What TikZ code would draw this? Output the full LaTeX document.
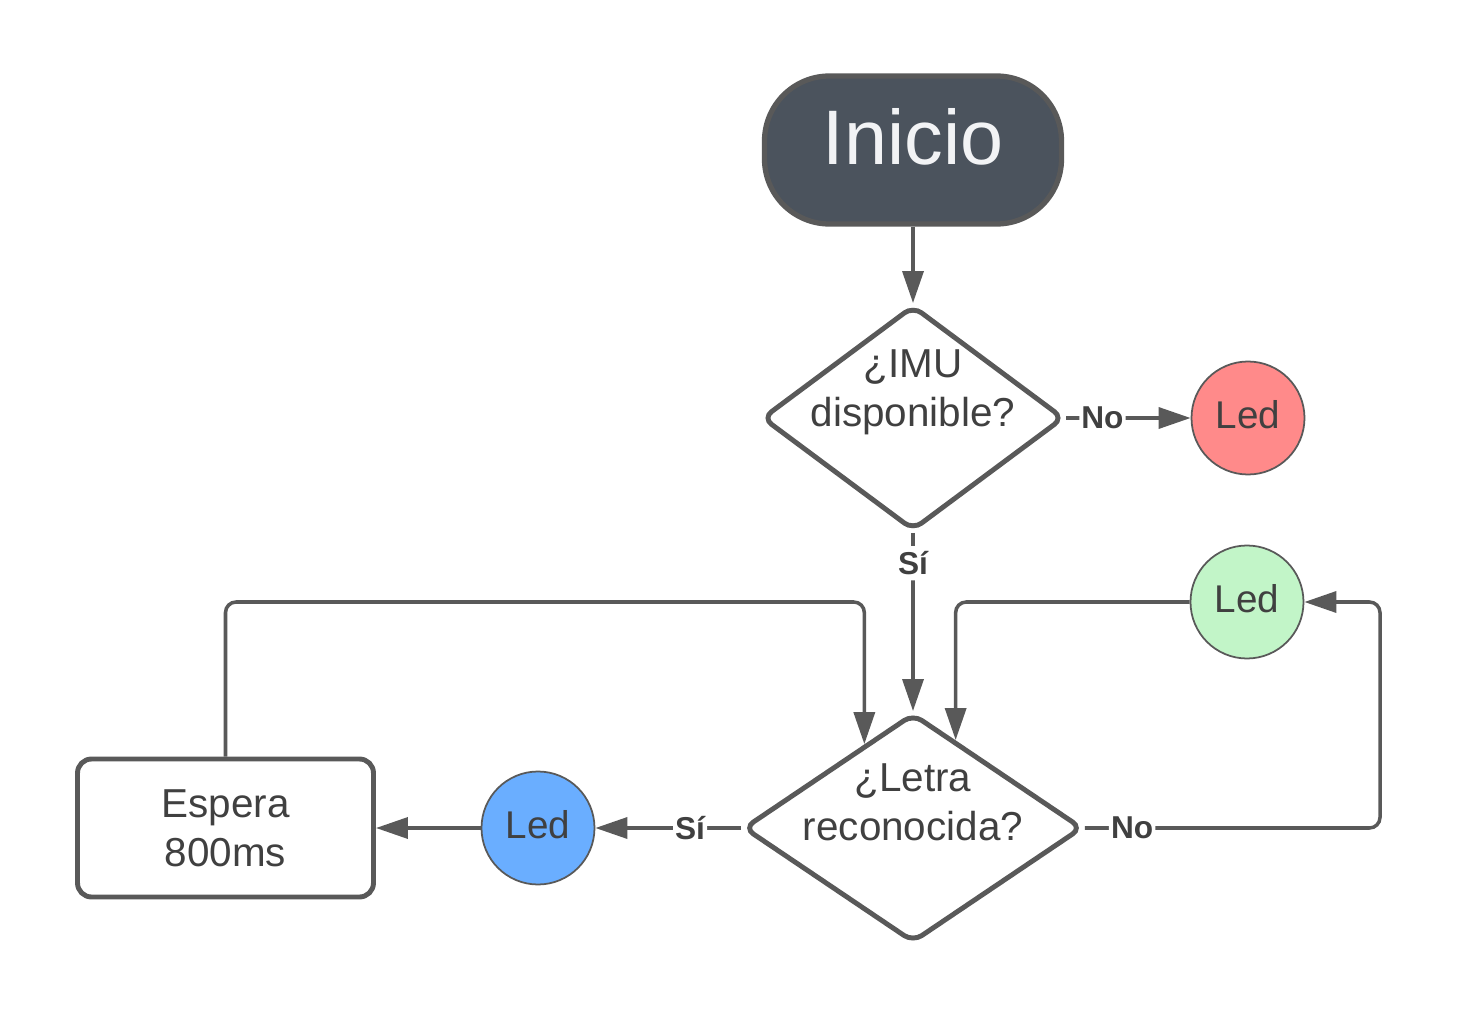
\documentclass[tikz,border=0pt]{standalone}
\usepackage{fontspec}
\setmainfont{Liberation Sans}
\usetikzlibrary{arrows.meta,calc,shapes.geometric}
\definecolor{trazo}{HTML}{595959}
\definecolor{tinta}{HTML}{404040}
\definecolor{pizarra}{HTML}{4B535D}
\definecolor{claro}{HTML}{F2F3F5}
\definecolor{ledrojo}{HTML}{FF8A8A}
\definecolor{ledverde}{HTML}{C2F5C8}
\definecolor{ledazul}{HTML}{6AAEFF}

\begin{document}
\begin{tikzpicture}[
  base/.style={draw=trazo,text=tinta,align=center,font=\fontsize{11.5}{14}\selectfont},
  inicio/.style={base,rectangle,fill=pizarra,text=claro,line width=1.5pt,rounded corners=0.65cm,
                 minimum width=2.97cm,minimum height=1.48cm,text depth=0.28cm,
                 font=\fontsize{22}{26}\selectfont},
  decision/.style={base,diamond,fill=white,line width=1.4pt,rounded corners=3pt,inner sep=0pt},
  pregunta/.style={align=center,text=tinta,yshift=0.26cm,font=\fontsize{11.5}{14}\selectfont},
  proceso/.style={base,rectangle,line width=1.4pt,rounded corners=4pt,
                  minimum width=2.96cm,minimum height=1.38cm},
  led/.style={base,circle,line width=0.5pt,minimum size=1.13cm,inner sep=0pt,text depth=0.08cm,
              font=\fontsize{11}{13}\selectfont},
  flecha/.style={-{Triangle[length=3.2mm,width=2.1mm]},trazo,line width=1pt,rounded corners=3pt},
  rotulo/.style={fill=white,text=tinta,inner xsep=0.6pt,inner ysep=1.5pt,
                 font=\fontsize{9}{10}\bfseries\selectfont}]
  \useasboundingbox (0,0) rectangle (14.57,10.18);
  \node[inicio] (inicio) at (9.13,8.68) {Inicio};
  \node[decision,minimum width=3.02cm,minimum height=2.25cm,
        label={[pregunta]center:¿IMU\\disponible?}] (dimu) at (9.13,6.00) {};
  \node[led,fill=ledrojo] (ledr) at (12.48,6.00) {Led};
  \node[decision,minimum width=3.39cm,minimum height=2.29cm,
        label={[pregunta]center:¿Letra\\reconocida?}] (dletra) at (9.13,1.90) {};
  \node[led,fill=ledverde] (ledv) at (12.47,4.16) {Led};
  \node[led,fill=ledazul] (leda) at (5.38,1.90) {Led};
  \node[proceso] (espera) at (2.255,1.90) {Espera\\800ms};
  \coordinate (entradaL) at ($(dletra.west)!0.717!(dletra.north)$);
  \coordinate (entradaR) at ($(dletra.north)!0.248!(dletra.east)$);
  \coordinate (vuelta) at (13.80,4.16);
  \draw[flecha] (inicio) -- (dimu);
  \draw[flecha] (dimu) -- node[rotulo,pos=0.29]{No} (ledr);
  \draw[flecha] (dimu) -- node[rotulo,pos=0.17]{Sí} (dletra);
  \draw[flecha] (dletra) -- node[rotulo,pos=0.35]{Sí} (leda);
  \draw[flecha] (leda) -- (espera);
  \draw[flecha] (espera.north) |- (entradaL |- ledv) -- (entradaL);
  \draw[flecha] (ledv) -| (entradaR);
  \draw[flecha] (dletra.east) -| node[rotulo,pos=0.08]{No} (vuelta) -- (ledv);
\end{tikzpicture}
\end{document}
